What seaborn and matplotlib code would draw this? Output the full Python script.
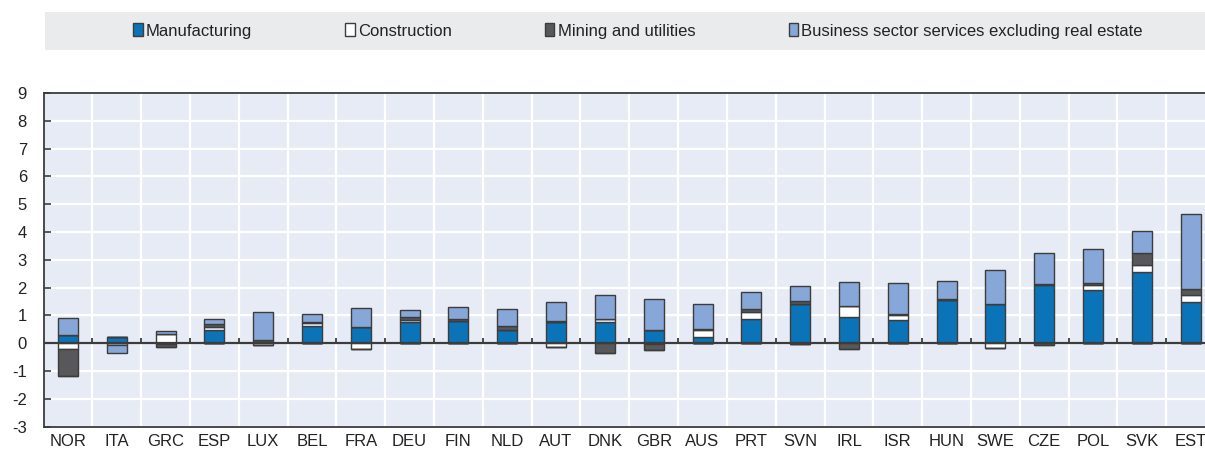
import numpy as np
import matplotlib
matplotlib.use("Agg")
import matplotlib.pyplot as plt
from matplotlib.patches import Patch, Rectangle
import matplotlib.transforms as mtransforms
import seaborn as sns

countries = ["NOR", "ITA", "GRC", "ESP", "LUX", "BEL", "FRA", "DEU", "FIN", "NLD", "AUT", "DNK",
             "GBR", "AUS", "PRT", "SVN", "IRL", "ISR", "HUN", "SWE", "CZE", "POL", "SVK", "EST"]
manufacturing = [0.31, 0.22, -0.02, 0.48, 0.03, 0.62, 0.60, 0.78, 0.80, 0.48, 0.78, 0.78,
                 0.46, 0.24, 0.86, 1.40, 0.94, 0.84, 1.55, 1.41, 2.10, 1.92, 2.55, 1.47]
construction = [-0.19, -0.06, 0.33, 0.10, -0.06, 0.12, -0.20, 0.06, 0.01, 0.01, -0.12, 0.10,
                -0.02, 0.22, 0.26, -0.03, 0.41, 0.18, 0.01, -0.17, 0.04, 0.16, 0.26, 0.26]
mining = [-1.00, -0.02, -0.12, 0.12, 0.08, 0.02, 0.00, 0.10, 0.06, 0.14, 0.02, -0.36,
          -0.22, 0.04, 0.10, 0.13, -0.22, 0.02, 0.02, 0.00, -0.08, 0.08, 0.42, 0.22]
business = [0.59, -0.28, 0.12, 0.19, 1.03, 0.28, 0.66, 0.24, 0.43, 0.59, 0.67, 0.86,
            1.14, 0.90, 0.63, 0.52, 0.87, 1.14, 0.66, 1.23, 1.10, 1.23, 0.79, 2.70]

series_names = ["Manufacturing", "Construction", "Mining and utilities",
                "Business sector services excluding real estate"]
series_values = [manufacturing, construction, mining, business]
series_colors = ["#0B73B7", "#FFFFFF", "#58585A", "#87A7D8"]
y_ticks = list(range(-3, 10))

sns.set_style("white")
plt.rcParams["font.family"] = ["Liberation Sans Narrow", "Liberation Sans", "DejaVu Sans"]

W, H = 1205, 451
fig = plt.figure(figsize=(W / 100, H / 100), dpi=100)
ax_left, ax_right, ax_top, ax_bot = 43.6, 1215.0, 93.0, 426.7
ax = fig.add_axes([ax_left / W, (H - ax_bot) / H, (ax_right - ax_left) / W, (ax_bot - ax_top) / H])
ax.set_facecolor("#E7EBF5")

pos_base = np.zeros(len(countries))
neg_base = np.zeros(len(countries))
for name, vals, col in zip(series_names, series_values, series_colors):
    v = np.array(vals, dtype=float)
    pos = np.where(v > 0, v, 0.0)
    neg = np.where(v < 0, v, 0.0)
    sns.barplot(x=countries, y=pos, bottom=pos_base, order=countries, color=col, saturation=1,
                errorbar=None, width=0.41, edgecolor="#3C3C3C", linewidth=1.0, ax=ax, zorder=3)
    sns.barplot(x=countries, y=neg, bottom=neg_base, order=countries, color=col, saturation=1,
                errorbar=None, width=0.41, edgecolor="#3C3C3C", linewidth=1.0, ax=ax, zorder=3)
    pos_base = pos_base + pos
    neg_base = neg_base + neg

n = len(countries)
ax.set_xlim(-0.5, n - 0.5)
ax.set_ylim(-3, 9)
ax.set_yticks(y_ticks)
ax.set_yticklabels([str(t) for t in y_ticks])
ax.set_xticks(range(n))
ax.set_xticklabels(countries)
ax.set_xticks(np.arange(n - 1) + 0.5, minor=True)
ax.set_xlabel("")
ax.set_ylabel("")

ax.grid(False)
ax.yaxis.grid(True, color="white", linewidth=1.6, zorder=0)
ax.xaxis.grid(True, which="minor", color="white", linewidth=1.6, zorder=0)
ax.set_axisbelow(True)

ax.tick_params(axis="x", which="major", length=0, pad=5, labelsize=12, labelcolor="#222222")
ax.tick_params(axis="x", which="minor", length=0)
ax.tick_params(axis="y", direction="in", length=5, width=1.2, color="#3C3C3C",
               pad=12, labelsize=12, labelcolor="#222222", left=True)

for s in ["left", "top", "bottom"]:
    ax.spines[s].set_visible(True)
    ax.spines[s].set_color("#3C3C3C")
    ax.spines[s].set_linewidth(1.3)
ax.spines["right"].set_visible(False)

ax.axhline(0, color="#3C3C3C", linewidth=1.6, zorder=4)
ax.vlines(np.arange(n - 1) + 0.5, 0, 0.19, color="#3C3C3C", linewidth=1.3, zorder=4)

# legend band
fig.patches.append(Rectangle((45 / W, (H - 50) / H), (W - 45) / W, 38 / H,
                             transform=fig.transFigure, facecolor="#EAEBED",
                             edgecolor="none", zorder=0))
handles = [Patch(facecolor=c, edgecolor="#3C3C3C", linewidth=1.0) for c in series_colors]
fig.legend(handles, series_names, loc="center", bbox_to_anchor=(638 / W, (H - 31) / H),
           ncol=4, frameon=False, fontsize=12, handlelength=0.55, handleheight=0.8,
           handletextpad=0.2, columnspacing=5.6, labelcolor="#222222")

fig.savefig("out.png", dpi=100)
